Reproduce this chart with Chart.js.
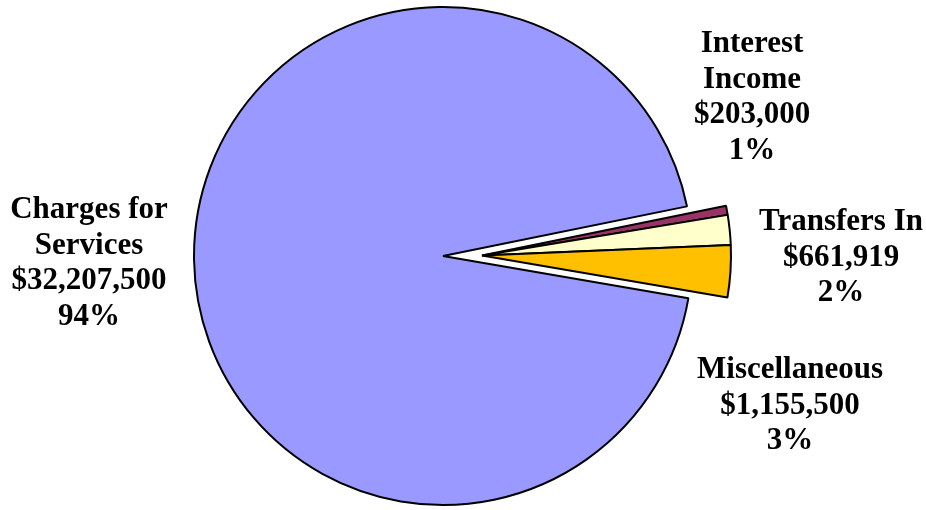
<!DOCTYPE html>
<html>
<head>
    <title>Revenue Sources</title>
    <style>
        body {
            margin: 0;
            background: #fff;
        }
        #chart-container {
            width: 926px;
            height: 510px;
            position: relative;
        }
    </style>
</head>
<body>
    <script src="https://cdn.jsdelivr.net/npm/chart.js@4.4.1/dist/chart.umd.min.js"></script>
    <div id="chart-container">
        <canvas id="pieChart"></canvas>
    </div>

    <script>
        // data
        const categories = ['Interest Income', 'Transfers In', 'Miscellaneous', 'Charges for Services'];
        const amounts = [203000, 661919, 1155500, 32207500];
        const percentLabels = ['1%', '2%', '3%', '94%'];
        const amountLabels = ['$203,000', '$661,919', '$1,155,500', '$32,207,500'];
        const nameLines = [['Interest', 'Income'], ['Transfers In'], ['Miscellaneous'], ['Charges for', 'Services']];
        const sliceColors = ['#993366', '#FFFFCC', '#FFC000', '#9999FF'];
        const exploded = [0, 1, 2];

        // label placement (center x, first line y)
        const labelPos = [[752, 44], [841, 222], [790, 370], [89, 210]];
        const lineGap = 35.5;

        // push the small slices out together, as one group
        const explodeGroup = {
            id: 'explodeGroup',
            afterDatasetsUpdate(chart) {
                const meta = chart.getDatasetMeta(0);
                let a0 = Infinity, a1 = -Infinity;
                exploded.forEach(i => {
                    a0 = Math.min(a0, meta.data[i].startAngle);
                    a1 = Math.max(a1, meta.data[i].endAngle);
                });
                const mid = (a0 + a1) / 2;
                const dist = 39;
                exploded.forEach(i => {
                    meta.data[i].x += Math.cos(mid) * dist;
                    meta.data[i].y += Math.sin(mid) * dist;
                });
            }
        };

        const sliceLabels = {
            id: 'sliceLabels',
            afterDraw(chart) {
                const ctx = chart.ctx;
                ctx.save();
                ctx.font = 'bold 31px "Liberation Serif", "Times New Roman", serif';
                ctx.fillStyle = '#000';
                ctx.textAlign = 'center';
                ctx.textBaseline = 'middle';
                categories.forEach((c, i) => {
                    const lines = nameLines[i].concat([amountLabels[i], percentLabels[i]]);
                    const [x, y] = labelPos[i];
                    lines.forEach((t, k) => ctx.fillText(t, x, y + k * lineGap));
                });
                ctx.restore();
            }
        };

        new Chart('pieChart', {
            type: 'pie',
            data: {
                labels: categories,
                datasets: [{
                    data: amounts,
                    backgroundColor: sliceColors,
                    borderColor: '#000',
                    borderWidth: 2
                }]
            },
            options: {
                responsive: true,
                maintainAspectRatio: false,
                animation: false,
                rotation: 78.5,
                radius: 249,
                layout: { padding: { left: 0, right: 40, top: 2, bottom: 0 } },
                plugins: {
                    legend: { display: false },
                    tooltip: { enabled: false }
                }
            },
            plugins: [explodeGroup, sliceLabels]
        });
    </script>
</body>
</html>
